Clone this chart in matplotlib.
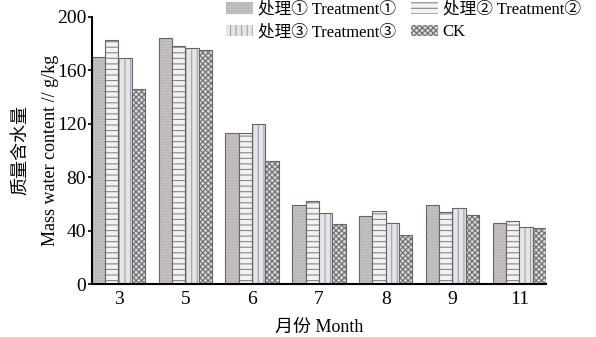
import numpy as np
import matplotlib
matplotlib.use('Agg')
import matplotlib.pyplot as plt
from matplotlib.patches import Patch

plt.rcParams['font.family'] = ['Liberation Serif', 'Noto Sans CJK SC']
plt.rcParams['hatch.linewidth'] = 0.8

# Данные: массовая влажность по месяцам
months = ['3', '5', '6', '7', '8', '9', '11']
t1 = [170, 184, 113, 59, 51, 59, 46]
t2 = [183, 178, 113, 62, 55, 54, 47]
t3 = [169, 177, 120, 53, 46, 57, 43]
ck = [146, 175, 92, 45, 37, 52, 42]
labels = ['处理① Treatment①', '处理② Treatment②', '处理③ Treatment③', 'CK']

series = [t1, t2, t3, ck]
faces = ['#c6c2c2', '#f2f2f2', '#e4e4ea', '#d6d6d6']
hatch_cols = ['#b0acac', '#8a8686', '#a0a0a8', '#6e6e6e']
hatches = ['......', '---', '|||', 'xxxxxx']

fig = plt.figure(figsize=(5.96, 3.37), dpi=100)
ax = fig.add_axes([0.154, 0.157, 0.762, 0.793])

x = np.arange(len(months))
w = 0.2
for i, vals in enumerate(series):
    pos = x + (i - 1.5) * w
    ax.bar(pos, vals, w, color=faces[i], edgecolor=hatch_cols[i],
           hatch=hatches[i], linewidth=0)
    ax.bar(pos, vals, w, fill=False, edgecolor='#6a6464', linewidth=0.8)

ax.set_xlim(-0.4, 6.4)
ax.set_ylim(0, 200)
ax.set_yticks([0, 40, 80, 120, 160, 200])
ax.set_xticks(x)
ax.set_xticklabels(months)
ax.tick_params(axis='x', length=0, labelsize=14, pad=5)
ax.tick_params(axis='y', direction='out', length=3, width=1.2, labelsize=14, pad=1)
ax.spines['top'].set_visible(False)
ax.spines['right'].set_visible(False)
ax.spines['left'].set_linewidth(1.5)
ax.spines['bottom'].set_linewidth(1.5)

ax.set_xlabel('月份 Month', fontsize=13, labelpad=8)
ax.set_ylabel('质量含水量\nMass water content // g/kg', fontsize=13,
              linespacing=1.9)
ax.yaxis.set_label_coords(-0.073, 0.5)

# порядок для заполнения по строкам
order = [0, 2, 1, 3]
handles = [Patch(facecolor=faces[i], edgecolor=hatch_cols[i], hatch=hatches[i],
                 linewidth=0) for i in order]
fig.legend(handles, [labels[i] for i in order], ncol=2, loc='upper left',
           bbox_to_anchor=(0.36, 1.03), frameon=False, fontsize=12,
           borderpad=0.2, handlelength=1.6, handleheight=0.7, columnspacing=0.9,
           handletextpad=0.3, labelspacing=0.4)

fig.savefig('out.png', dpi=100)
